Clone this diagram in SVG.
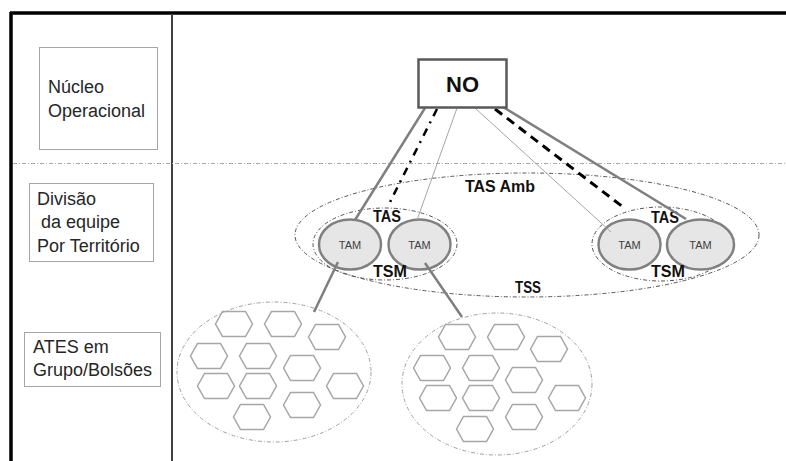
<svg xmlns="http://www.w3.org/2000/svg" width="786" height="461" viewBox="0 0 786 461">
<style>
.lbl{font-family:"Liberation Sans",Arial,sans-serif;font-size:18px;fill:#262626}
.b{font-family:"Liberation Sans",Arial,sans-serif;font-weight:bold;fill:#111}
.tam{fill:#e6e6e6;stroke:#808080;stroke-width:2.5}
.tamt{font-family:"Liberation Sans",Arial,sans-serif;font-size:11px;fill:#404040;text-anchor:middle}
.grp{fill:none;stroke:#555;stroke-width:1;stroke-dasharray:4 2 1 2}
.cl{fill:none;stroke:#a0a0a0;stroke-width:1;stroke-dasharray:4 2 1 2}
.hex{fill:none;stroke:#a6a6a6;stroke-width:1.5}
.box{fill:#fff;stroke:#a6a6a6;stroke-width:1}
.thick{stroke:#7f7f7f;stroke-width:2.5;fill:none}
.thin{stroke:#a6a6a6;stroke-width:1;fill:none}
</style>
<defs>
<polygon id="h" points="-18.5,0 -11.5,-12.5 11.5,-12.5 18.5,0 11.5,12.5 -11.5,12.5"/>
</defs>
<rect width="786" height="461" fill="#fff"/>
<g id="frame">
<line x1="10" y1="13" x2="786" y2="13" stroke="#000" stroke-width="3.5"/>
<line x1="11" y1="12" x2="11" y2="461" stroke="#000" stroke-width="3.5"/>
<line x1="172" y1="15" x2="172" y2="461" stroke="#000" stroke-width="1.5"/>
<line x1="13" y1="163.5" x2="786" y2="163.5" stroke="#aaa" stroke-width="1" stroke-dasharray="4 2 1 2"/>
</g>
<g id="label-nucleo">
<rect class="box" x="39.5" y="47.5" width="118" height="102"/>
<text class="lbl" x="48" y="93">Núcleo</text>
<text class="lbl" x="48" y="117">Operacional</text>
</g>
<g id="label-divisao">
<rect class="box" x="29.5" y="183.5" width="124" height="78"/>
<text class="lbl" x="37" y="205">Divisão</text>
<text class="lbl" x="41" y="228">da equipe</text>
<text class="lbl" x="37" y="252">Por Território</text>
</g>
<g id="label-ates">
<rect class="box" x="24.5" y="332.5" width="136" height="54"/>
<text class="lbl" x="33" y="353">ATES em</text>
<text class="lbl" x="33" y="376">Grupo/Bolsões</text>
</g>
<g id="tas-amb">
<ellipse class="grp" cx="527" cy="235" rx="232" ry="62"/>
<text class="b" x="465" y="192" font-size="16" textLength="70" lengthAdjust="spacingAndGlyphs">TAS Amb</text>
<text class="b" x="515" y="293" font-size="16" textLength="26" lengthAdjust="spacingAndGlyphs">TSS</text>
</g>
<g id="group-left">
<ellipse class="grp" cx="385" cy="244" rx="72" ry="36"/>
</g>
<g id="group-right">
<ellipse class="grp" cx="661" cy="244" rx="69" ry="37"/>
</g>
<g id="cluster-left">
<ellipse class="cl" cx="274" cy="372" rx="97" ry="70"/>
<use href="#h" class="hex" x="234" y="324"/>
<use href="#h" class="hex" x="283" y="324"/>
<use href="#h" class="hex" x="327" y="337"/>
<use href="#h" class="hex" x="209" y="356"/>
<use href="#h" class="hex" x="258" y="356"/>
<use href="#h" class="hex" x="302" y="368"/>
<use href="#h" class="hex" x="216" y="386"/>
<use href="#h" class="hex" x="258" y="386"/>
<use href="#h" class="hex" x="345" y="386"/>
<use href="#h" class="hex" x="302" y="405"/>
<use href="#h" class="hex" x="252" y="417"/>
</g>
<g id="cluster-right">
<ellipse class="cl" cx="497" cy="384" rx="95" ry="71"/>
<use href="#h" class="hex" x="457" y="337"/>
<use href="#h" class="hex" x="506" y="337"/>
<use href="#h" class="hex" x="549" y="349"/>
<use href="#h" class="hex" x="432" y="368"/>
<use href="#h" class="hex" x="481" y="368"/>
<use href="#h" class="hex" x="524" y="380"/>
<use href="#h" class="hex" x="438" y="398"/>
<use href="#h" class="hex" x="481" y="398"/>
<use href="#h" class="hex" x="567" y="398"/>
<use href="#h" class="hex" x="524" y="417"/>
<use href="#h" class="hex" x="475" y="429"/>
</g>
<g id="tam1"><ellipse class="tam" cx="350" cy="244.5" rx="31" ry="25"/><text class="tamt" x="350" y="248.5">TAM</text></g>
<g id="tam2"><ellipse class="tam" cx="419.5" cy="244.5" rx="31" ry="25"/><text class="tamt" x="419.5" y="248.5">TAM</text></g>
<g id="tam3"><ellipse class="tam" cx="629.5" cy="244.5" rx="31" ry="25"/><text class="tamt" x="629.5" y="248.5">TAM</text></g>
<g id="tam4"><ellipse class="tam" cx="700.5" cy="244.5" rx="33.5" ry="25"/><text class="tamt" x="700.5" y="248.5">TAM</text></g>
<g id="labels-team">
<text class="b" x="373" y="222" font-size="16" textLength="28" lengthAdjust="spacingAndGlyphs">TAS</text>
<text class="b" x="373" y="277" font-size="16" textLength="34" lengthAdjust="spacingAndGlyphs">TSM</text>
<text class="b" x="651" y="223" font-size="16" textLength="28" lengthAdjust="spacingAndGlyphs">TAS</text>
<text class="b" x="651" y="277" font-size="16" textLength="34" lengthAdjust="spacingAndGlyphs">TSM</text>
</g>
<g id="connectors">
<line class="thick" x1="425" y1="108" x2="355" y2="220"/>
<line x1="437" y1="109" x2="388" y2="206" stroke="#000" stroke-width="2.5" stroke-dasharray="8 6 2 6"/>
<line class="thin" x1="457" y1="108" x2="417" y2="220"/>
<line class="thin" x1="475" y1="108" x2="611" y2="232"/>
<line x1="495" y1="109" x2="623" y2="207" stroke="#000" stroke-width="3" stroke-dasharray="9 6"/>
<line class="thick" x1="503" y1="107" x2="686" y2="219"/>
<line class="thick" x1="338" y1="262" x2="314" y2="312"/>
<line class="thick" x1="425" y1="263" x2="462" y2="317"/>
</g>
<g id="no">
<rect x="418.5" y="59.5" width="88" height="48" fill="#fff" stroke="#595959" stroke-width="2.5"/>
<text class="b" x="462.5" y="92" font-size="22" text-anchor="middle">NO</text>
</g>
</svg>
